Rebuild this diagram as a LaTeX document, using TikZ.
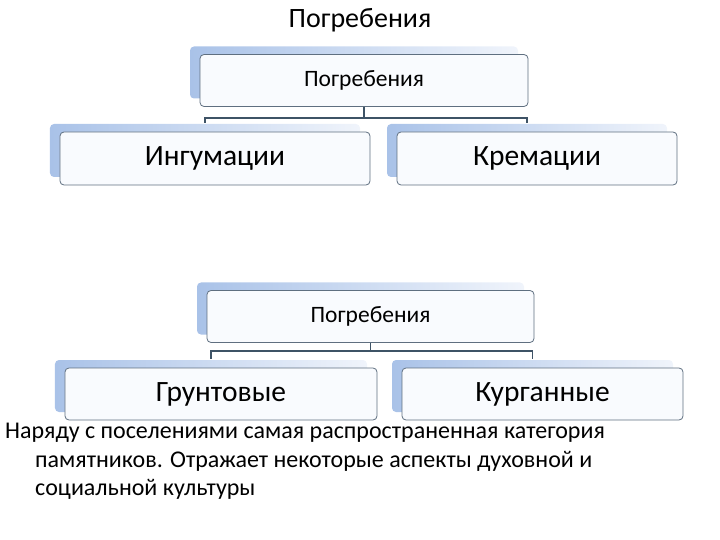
\documentclass[tikz,border=0pt]{standalone}
\usepackage{fontspec}
\setmainfont{Carlito}
\usetikzlibrary{shadows}
\definecolor{sh1}{HTML}{A9C2E8}
\definecolor{sh2}{HTML}{F0F4FB}
\definecolor{edgec}{HTML}{5F6F80}
\definecolor{conn}{HTML}{3E5366}
\definecolor{boxfill}{HTML}{F9FBFE}
\tikzset{
  box/.style={draw=edgec, line width=0.8bp, rounded corners=4bp, fill=boxfill, inner sep=0pt,
    general shadow={shadow xshift=-10bp, shadow yshift=8bp, left color=sh1, right color=sh2, draw=none}},
  topbox/.style={box, minimum width=328bp, minimum height=52bp, font=\fontsize{23.5bp}{28bp}\selectfont},
  childbox/.style={box, minimum height=53bp, font=\fontsize{29.5bp}{34bp}\selectfont},
  conn/.style={draw=conn, line width=1.6bp},
}
\begin{document}
\begin{tikzpicture}[x=1bp, y=-1bp]
\useasboundingbox (0,0) rectangle (720,540);
\node[font=\fontsize{28bp}{32bp}\selectfont] (title) at (360,20) {Погребения};

\node[topbox] (p1) at (364,80.5) {Погребения};
\node[childbox, minimum width=310bp] (ing) at (215,158.5) {Ингумации};
\node[childbox, minimum width=280bp] (krem) at (537,158.5) {Кремации};
\draw[conn] (p1.south) -- ++(0,11) -| ([xshift=-10bp,yshift=9bp]ing.north);
\draw[conn] (p1.south) ++(0,11) -| ([xshift=-10bp,yshift=9bp]krem.north);

\node[topbox, minimum width=327bp] (p2) at (370.5,316.5) {Погребения};
\node[childbox, minimum width=312bp, minimum height=52bp] (grunt) at (221,394) {Грунтовые};
\node[childbox, minimum width=281bp, minimum height=52bp] (kurg) at (542.5,394) {Курганные};
\draw[conn] (p2.south) -- ++(0,8) -| ([xshift=-10bp,yshift=9bp]grunt.north);
\draw[conn] (p2.south) ++(0,8) -| ([xshift=-10bp,yshift=9bp]kurg.north);

\node[anchor=north west, align=left, inner sep=0pt, font=\fontsize{24bp}{28.5bp}\selectfont] (txt) at (5,423)
  {Наряду с поселениями самая распространенная категория\\
   \hspace*{30bp}памятников. Отражает некоторые аспекты духовной и\\
   \hspace*{30bp}социальной культуры};
\end{tikzpicture}
\end{document}
